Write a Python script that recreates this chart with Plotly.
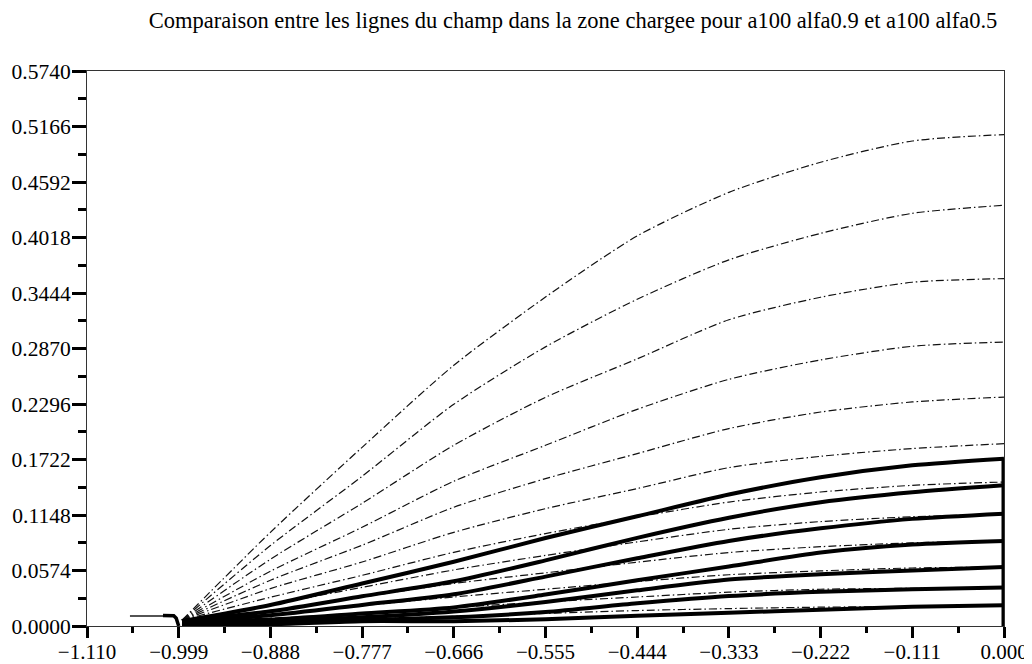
import plotly.graph_objects as go

TITLE = "Comparaison entre les lignes du champ dans la zone chargee pour a100 alfa0.9 et a100 alfa0.5"

X_SAMPLES = [-0.995, -0.888, -0.777, -0.666, -0.555, -0.444, -0.333, -0.222, -0.111, 0.000]

# alfa0.9 field lines (dash-dot)
D1 = [0.006, 0.0969, 0.1848, 0.2696, 0.3402, 0.4034, 0.4485, 0.4796, 0.5016, 0.5082]
D2 = [0.006, 0.0832, 0.1548, 0.2293, 0.2887, 0.3379, 0.3787, 0.4061, 0.4268, 0.4351]
D3 = [0.006, 0.0690, 0.1269, 0.1869, 0.2365, 0.2763, 0.3167, 0.3400, 0.3555, 0.3593]
D4 = [0.006, 0.0566, 0.1021, 0.1497, 0.1869, 0.2241, 0.2551, 0.2752, 0.2893, 0.2937]
D5 = [0.006, 0.0473, 0.0835, 0.1228, 0.1524, 0.1783, 0.2042, 0.2213, 0.2317, 0.2368]
D6 = [0.006, 0.0387, 0.0662, 0.0969, 0.1214, 0.1421, 0.1638, 0.1755, 0.1835, 0.1886]
D7 = [0.006, 0.0297, 0.0524, 0.0762, 0.0956, 0.1127, 0.1282, 0.1386, 0.1455, 0.1489]
D8 = [0.006, 0.0220, 0.0400, 0.0580, 0.0730, 0.0870, 0.1000, 0.1080, 0.1130, 0.1155]
D9 = [0.006, 0.0160, 0.0300, 0.0440, 0.0550, 0.0660, 0.0760, 0.0820, 0.0860, 0.0880]
D10 = [0.006, 0.0110, 0.0210, 0.0300, 0.0380, 0.0460, 0.0530, 0.0570, 0.0600, 0.0610]
D11 = [0.006, 0.0080, 0.0130, 0.0190, 0.0250, 0.0300, 0.0350, 0.0380, 0.0390, 0.0400]
D12 = [0.005, 0.0050, 0.0070, 0.0100, 0.0130, 0.0160, 0.0180, 0.0195, 0.0200, 0.0205]
ALFA09 = [D1, D2, D3, D4, D5, D6, D7, D8, D9, D10, D11, D12]

# alfa0.5 field lines (thick solid)
T1 = [0.005, 0.0217, 0.0440, 0.0664, 0.0910, 0.1135, 0.1360, 0.1538, 0.1662, 0.1731]
T2 = [0.005, 0.0152, 0.0307, 0.0462, 0.0679, 0.0912, 0.1120, 0.1280, 0.1383, 0.1455]
T3 = [0.005, 0.0110, 0.0218, 0.0328, 0.0511, 0.0701, 0.0880, 0.1010, 0.1108, 0.1162]
T4 = [0.005, 0.0066, 0.0129, 0.0192, 0.0325, 0.0473, 0.0615, 0.0760, 0.0842, 0.0879]
T5 = [0.004, 0.0050, 0.0090, 0.0150, 0.0248, 0.0369, 0.0480, 0.0535, 0.0575, 0.0610]
T6 = [0.003, 0.0030, 0.0060, 0.0090, 0.0145, 0.0235, 0.0310, 0.0354, 0.0380, 0.0397]
T7 = [0.002, 0.0020, 0.0050, 0.0050, 0.0070, 0.0105, 0.0137, 0.0168, 0.0200, 0.0214]
ALFA05 = [T1, T2, T3, T4, T5, T6, T7]

# boundary segment at x = 0 and short pieces at the left
EDGE_X = [0.0, 0.0]
EDGE_Y = [0.0, 0.1731]
LEFT_THIN_X = [-1.058, -1.012]
LEFT_THIN_Y = [0.0103, 0.0103]
LEFT_HOOK_X = [-1.018, -1.005, -1.002, -1.000, -0.999]
LEFT_HOOK_Y = [0.0108, 0.0105, 0.0080, 0.0040, 0.0000]

X_TICKS = [-1.110, -0.999, -0.888, -0.777, -0.666, -0.555, -0.444, -0.333, -0.222, -0.111, 0.000]
X_LABELS = ["\u22121.110", "\u22120.999", "\u22120.888", "\u22120.777", "\u22120.666", "\u22120.555",
            "\u22120.444", "\u22120.333", "\u22120.222", "\u22120.111", "0.000"]
Y_TICKS = [0.0, 0.0574, 0.1148, 0.1722, 0.2296, 0.2870, 0.3444, 0.4018, 0.4592, 0.5166, 0.5740]
Y_LABELS = ["0.0000", "0.0574", "0.1148", "0.1722", "0.2296", "0.2870", "0.3444", "0.4018",
            "0.4592", "0.5166", "0.5740"]

FONT = "Liberation Serif"

# the page body adds an 8px offset, so the figure is drawn 8px smaller and margins shifted
W, H = 1024, 656

fig = go.Figure()

for ys in ALFA09:
    fig.add_trace(go.Scatter(x=X_SAMPLES, y=ys, mode="lines", showlegend=False,
                             line=dict(color="#111", width=1.2, dash="8px,3px,1.5px,3px",
                                       shape="spline", smoothing=0.7)))

for ys in ALFA05:
    fig.add_trace(go.Scatter(x=X_SAMPLES, y=ys, mode="lines", showlegend=False,
                             line=dict(color="black", width=4, shape="spline", smoothing=0.7)))

fig.add_trace(go.Scatter(x=EDGE_X, y=EDGE_Y, mode="lines", showlegend=False,
                         line=dict(color="black", width=5)))
fig.add_trace(go.Scatter(x=LEFT_THIN_X, y=LEFT_THIN_Y, mode="lines", showlegend=False,
                         line=dict(color="#1a1a1a", width=1.5)))
fig.add_trace(go.Scatter(x=LEFT_HOOK_X, y=LEFT_HOOK_Y, mode="lines", showlegend=False,
                         line=dict(color="black", width=3.5)))

fig.update_layout(
    width=W, height=H,
    margin=dict(l=79, r=28, t=63, b=38, autoexpand=False),
    paper_bgcolor="white", plot_bgcolor="white",
    font=dict(family=FONT, size=21.5, color="black"),
    title=dict(text=TITLE, x=(573 - 8) / W, xanchor="center", xref="container",
               y=1 - 12 / H, yanchor="middle", yref="container",
               font=dict(family=FONT, size=22.5, color="black")),
    xaxis=dict(range=[-1.110, 0.0], tickmode="array", tickvals=X_TICKS, ticktext=X_LABELS,
               automargin=False, ticklabelstandoff=-4,
               showgrid=False, zeroline=False, showline=True, mirror=True,
               linecolor="#333", linewidth=1, ticks="outside", ticklen=11, tickwidth=3,
               tickcolor="black", tickfont=dict(family=FONT, size=21),
               minor=dict(ticks="outside", ticklen=6, tickwidth=3, tickcolor="black",
                          tick0=-1.110, dtick=0.0555, showgrid=False)),
    yaxis=dict(range=[0.0, 0.574], tickmode="array", tickvals=Y_TICKS, ticktext=Y_LABELS,
               automargin=False, ticklabelstandoff=-3,
               showgrid=False, zeroline=False, showline=True, mirror=True,
               linecolor="#333", linewidth=1, ticks="outside", ticklen=14, tickwidth=3,
               tickcolor="black", tickfont=dict(family=FONT, size=21.5),
               minor=dict(ticks="outside", ticklen=8, tickwidth=3, tickcolor="black",
                          tick0=0.0, dtick=0.0287, showgrid=False)),
)

fig.write_html("out.html")
